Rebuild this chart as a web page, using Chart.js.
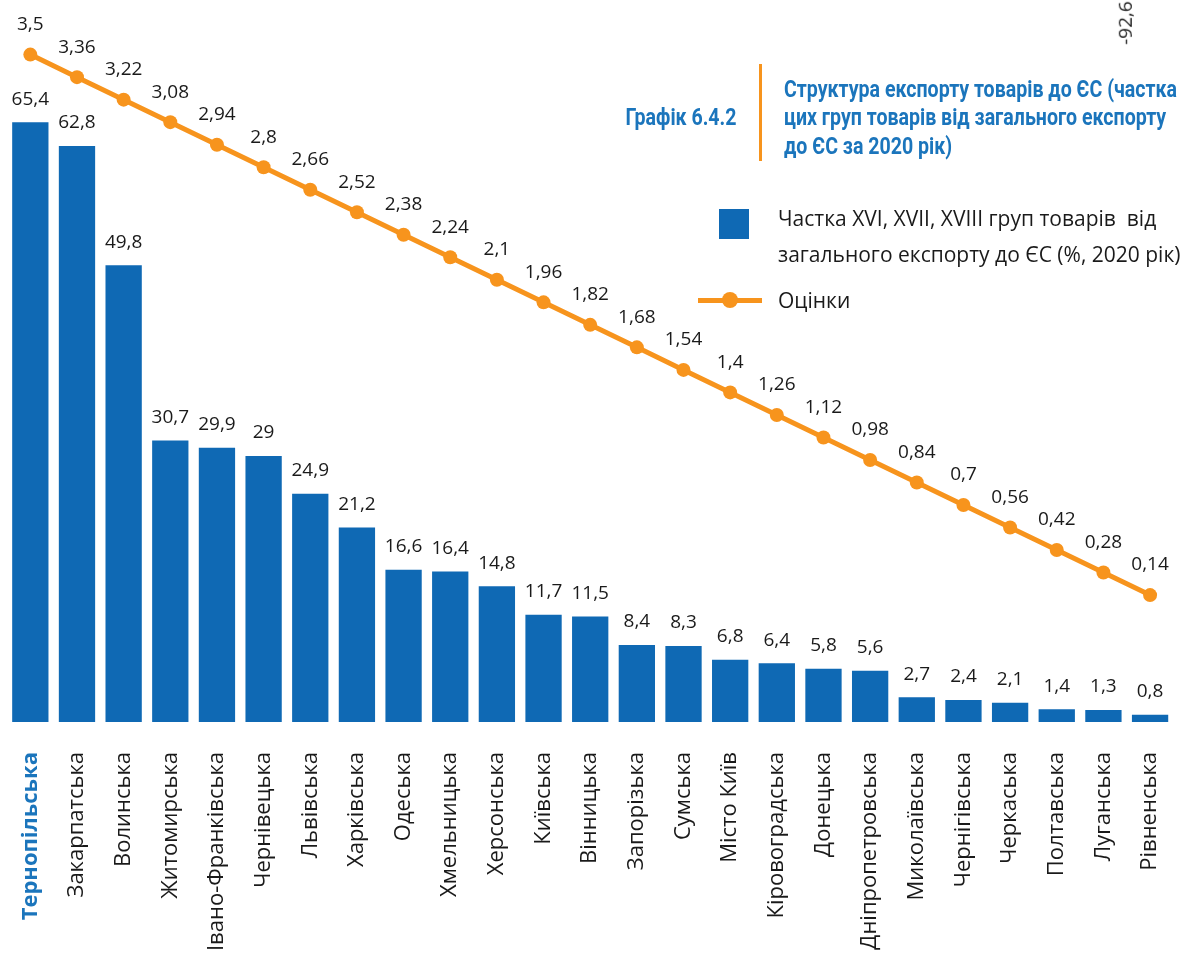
<!DOCTYPE html>
<html>
<head>
<meta charset="utf-8">
<script src="https://cdn.jsdelivr.net/npm/chart.js@4.4.1/dist/chart.umd.min.js"></script>
<style>
  html, body { margin:0; padding:0; width:1194px; height:953px; overflow:hidden; background:#fff; }
  #wrap { position:absolute; left:0; top:0; width:1194px; height:1100px; }
  .t { position:absolute; white-space:nowrap; }
  .title { font-family:"Roboto","Liberation Sans",sans-serif; font-weight:bold; color:#1B75BC; font-size:23px; line-height:28px; transform-origin:left center; }
  .leg { font-family:"Open Sans","Noto Sans",sans-serif; font-size:21px; color:#1a1a1a; line-height:36px; }
</style>
</head>
<body>
<div id="wrap"><canvas id="c" width="1194" height="1100"></canvas></div>

<div class="t title cond" id="gr" style="left:624px; top:104px;">Графік 6.4.2</div>
<div style="position:absolute; left:759px; top:64px; width:3px; height:97px; background:#F7941D;"></div>
<div class="t title cond" id="tl1" style="left:784px; top:76px;">Структура експорту товарів до ЄС (частка</div>
<div class="t title cond" style="left:784px; top:104px;">цих груп товарів від загального експорту</div>
<div class="t title cond" style="left:784px; top:133px;">до ЄС за 2020 рік)</div>

<div style="position:absolute; left:719px; top:209px; width:30px; height:30px; background:#0F69B4;"></div>
<div class="t leg" style="left:778px; top:200px;">Частка XVI, XVII, XVIII груп товарів&nbsp; від<br>загального експорту до ЄС (%, 2020 рік)</div>
<div style="position:absolute; left:698px; top:298px; width:64px; height:5px; background:#F7941D;"></div>
<div style="position:absolute; left:722px; top:292px; width:16px; height:16px; border-radius:50%; background:#F7941D;"></div>
<div class="t leg" style="left:778px; top:282px;">Оцінки</div>

<div class="t" style="left:1103px; top:13px; font-family:'Open Sans','Noto Sans',sans-serif; font-size:19px; line-height:20px; color:#1a1a1a; transform:rotate(-90deg); transform-origin:center;">-92,6</div>

<script>
const categories = ["Тернопільська","Закарпатська","Волинська","Житомирська","Івано-Франківська","Чернівецька","Львівська","Харківська","Одеська","Хмельницька","Херсонська","Київська","Вінницька","Запорізька","Сумська","Місто Київ","Кіровоградська","Донецька","Дніпропетровська","Миколаївська","Чернігівська","Черкаська","Полтавська","Луганська","Рівненська"];
const shareValues = [65.4,62.8,49.8,30.7,29.9,29,24.9,21.2,16.6,16.4,14.8,11.7,11.5,8.4,8.3,6.8,6.4,5.8,5.6,2.7,2.4,2.1,1.4,1.3,0.8];
const scoreValues = [3.5,3.36,3.22,3.08,2.94,2.8,2.66,2.52,2.38,2.24,2.1,1.96,1.82,1.68,1.54,1.4,1.26,1.12,0.98,0.84,0.7,0.56,0.42,0.28,0.14];

// condense the bold title to match the narrow reference typeface
(function () {
  const ref = document.getElementById('tl1');
  const s = 393 / ref.getBoundingClientRect().width;
  document.querySelectorAll('.cond').forEach(el => { el.style.transform = 'scaleX(' + s + ')'; });
  const g = document.getElementById('gr');
  g.style.transformOrigin = 'right center';
  const w = g.getBoundingClientRect().width / s;
  g.style.left = (737 - w) + 'px';
})();

const BLUE = '#0F69B4';
const ORANGE = '#F7941D';
const LABEL_FONT = '19px "Open Sans", "Noto Sans", sans-serif';

const valueLabels = {
  id: 'valueLabels',
  afterDatasetsDraw(chart) {
    const ctx = chart.ctx;
    ctx.save();
    ctx.font = LABEL_FONT;
    ctx.fillStyle = '#1a1a1a';
    ctx.textAlign = 'center';
    ctx.textBaseline = 'middle';
    chart.data.datasets.forEach((ds, di) => {
      const meta = chart.getDatasetMeta(di);
      const off = ds.type === 'line' ? 30 : 23;
      meta.data.forEach((el, i) => {
        const txt = String(ds.data[i]).replace('.', ',');
        ctx.fillText(txt, el.x, el.y - off);
      });
    });
    ctx.restore();
  }
};

new Chart(document.getElementById('c'), {
  data: {
    labels: categories,
    datasets: [
      {
        type: 'line',
        label: 'Оцінки',
        data: scoreValues,
        yAxisID: 'y2',
        borderColor: ORANGE,
        backgroundColor: ORANGE,
        borderWidth: 5,
        pointRadius: 7,
        pointBorderWidth: 0,
        pointBackgroundColor: ORANGE,
        tension: 0,
        order: 0
      },
      {
        type: 'bar',
        label: 'Частка XVI, XVII, XVIII груп товарів від загального експорту до ЄС (%, 2020 рік)',
        data: shareValues,
        yAxisID: 'y',
        backgroundColor: BLUE,
        barPercentage: 0.778,
        categoryPercentage: 1,
        order: 1
      }
    ]
  },
  options: {
    responsive: false,
    animation: false,
    devicePixelRatio: 1,
    layout: { padding: { left: 4.1, right: 20.6, top: 0, bottom: 0 } },
    plugins: { legend: { display: false }, tooltip: { enabled: false } },
    scales: {
      x: {
        grid: { display: false, drawTicks: false },
        border: { display: false },
        afterFit(scale) {
          scale.height = 1100 - 722;
          scale.paddingLeft = 0; scale.paddingRight = 0;
          scale.paddingTop = 0; scale.paddingBottom = 0;
        },
        ticks: {
          autoSkip: false,
          maxRotation: 90,
          minRotation: 90,
          padding: 30,
          color: (c) => c.index === 0 ? '#1B75BC' : '#1a1a1a',
          font: (c) => ({ family: '"Open Sans", "Noto Sans", sans-serif', size: 22, weight: c.index === 0 ? 'bold' : 'normal' })
        }
      },
      y: { display: false, min: 0, max: 77.96 },
      y2: { display: false, min: -0.649, max: 3.796, position: 'right' }
    }
  },
  plugins: [valueLabels]
});
</script>
</body>
</html>
